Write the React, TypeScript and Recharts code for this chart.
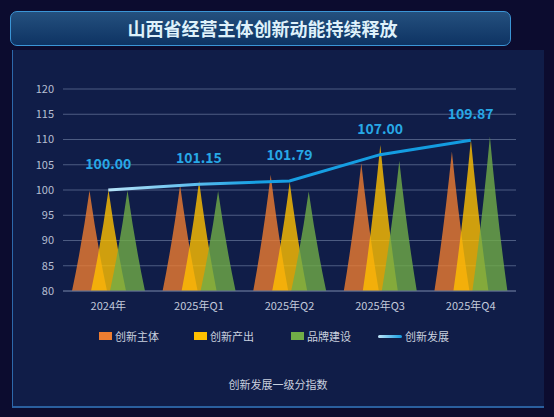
import React from "react"
import { Bar, CartesianGrid, ComposedChart, LabelList, Line, XAxis, YAxis } from "recharts"

const categories = ["2024年", "2025年Q1", "2025年Q2", "2025年Q3", "2025年Q4"]
const subjectValues = [99.9, 101.0, 103.0, 105.3, 107.6]
const outputValues = [100.0, 101.8, 101.6, 108.9, 110.0]
const brandValues = [99.9, 99.8, 99.7, 105.8, 110.6]
const developValues = [100.0, 101.15, 101.79, 107.0, 109.87]
const yTicks = [80, 85, 90, 95, 100, 105, 110, 115, 120]

const data = categories.map((name, i) => ({
  name,
  创新主体: subjectValues[i],
  创新产出: outputValues[i],
  品牌建设: brandValues[i],
  创新发展: developValues[i],
}))

const FONT = '"Noto Sans CJK SC", "Noto Sans", sans-serif'

// spike shaped bar, wider than the slot so neighbours overlap
const Spike = (props: any) => {
  const { x, y, width, height, fill } = props
  if (height == null || height <= 0) return null
  const cx = x + width / 2
  const half = 17.5
  const b = y + height
  const l = cx - half
  const r = cx + half
  const d = `M${l},${b} Q${l + half * 0.56},${b - height * 0.46} ${cx},${y} Q${r - half * 0.56},${b - height * 0.46} ${r},${b} Z`
  return <path d={d} fill={fill} fillOpacity={0.8} />
}

const legendItems = [
  { name: "创新主体", color: "#ed7d31", left: 99 },
  { name: "创新产出", color: "#ffc000", left: 194 },
  { name: "品牌建设", color: "#70ad47", left: 291 },
]

export default function App() {
  return (
    <div
      style={{
        position: "absolute",
        left: 0,
        top: 0,
        width: 554,
        height: 417,
        background: "#0c0c2f",
        overflow: "hidden",
        fontFamily: FONT,
      }}
    >
      <div
        style={{
          position: "absolute",
          left: 12,
          top: 50,
          width: 531,
          height: 356,
          background: "#101d48",
          borderLeft: "1px solid #2d68aa",
          borderBottom: "2px solid #2a5f9e",
        }}
      />
      <div
        style={{
          position: "absolute",
          left: 10,
          top: 11,
          width: 499,
          height: 33,
          border: "1.5px solid #3b95d6",
          borderRadius: 7,
          background: "linear-gradient(#24507e, #0e3363)",
          color: "#dff1fb",
          fontSize: 18,
          fontWeight: "bold",
          textAlign: "center",
          lineHeight: "33px",
        }}
      >
        <span style={{ marginLeft: 4 }}>山西省经营主体创新动能持续释放</span>
      </div>

      <div style={{ position: "absolute", left: 0, top: 0 }}>
        <ComposedChart
          width={554}
          height={417}
          data={data}
          margin={{ top: 89, right: 38, bottom: 96, left: 0 }}
          barSize={19}
          barGap={0}
        >
          <defs>
            <linearGradient id="lineGrad" x1="0" y1="0" x2="1" y2="0">
              <stop offset="0%" stopColor="#b8e4f8" />
              <stop offset="22%" stopColor="#64c0ef" />
              <stop offset="40%" stopColor="#18a0e4" />
              <stop offset="100%" stopColor="#129be0" />
            </linearGradient>
          </defs>
          <CartesianGrid vertical={false} stroke="#4d5c82" strokeWidth={1} />
          <XAxis
            dataKey="name"
            tickLine={false}
            axisLine={{ stroke: "#5d6b8f" }}
            tick={{ fill: "#c3cadb", fontSize: 11, fontFamily: FONT }}
            tickMargin={5}
            height={30}
          />
          <YAxis
            domain={[80, 120]}
            ticks={yTicks}
            width={63}
            tickLine={false}
            axisLine={false}
            tick={{ fill: "#b6bfd2", fontSize: 11, fontFamily: FONT }}
            tickMargin={3}
          />
          <Bar dataKey="创新主体" fill="#ed7d31" shape={<Spike />} isAnimationActive={false} />
          <Bar dataKey="创新产出" fill="#ffc000" shape={<Spike />} isAnimationActive={false} />
          <Bar dataKey="品牌建设" fill="#70ad47" shape={<Spike />} isAnimationActive={false} />
          <Line
            dataKey="创新发展"
            type="linear"
            stroke="url(#lineGrad)"
            strokeWidth={3}
            dot={false}
            activeDot={false}
            isAnimationActive={false}
          >
            <LabelList
              dataKey="创新发展"
              position="top"
              offset={21}
              formatter={(v: any) => Number(v).toFixed(2)}
              fill="#27a8e6"
              fontSize={14}
              fontWeight="bold"
              fontFamily={FONT}
            />
          </Line>
        </ComposedChart>
      </div>

      {legendItems.map((it) => (
        <div
          key={it.name}
          style={{ position: "absolute", left: it.left, top: 328, display: "flex", alignItems: "center", height: 16 }}
        >
          <span style={{ width: 13, height: 8, background: it.color, display: "inline-block" }} />
          <span style={{ marginLeft: 3, fontSize: 11, color: "#c9d0df" }}>{it.name}</span>
        </div>
      ))}
      <div style={{ position: "absolute", left: 378, top: 328, display: "flex", alignItems: "center", height: 16 }}>
        <span
          style={{
            width: 24,
            height: 3,
            borderRadius: 2,
            background: "linear-gradient(90deg, #bfe6f9, #139ce2)",
            display: "inline-block",
          }}
        />
        <span style={{ marginLeft: 3, fontSize: 11, color: "#c9d0df" }}>创新发展</span>
      </div>
      <div
        style={{
          position: "absolute",
          left: 0,
          width: 556,
          top: 376,
          textAlign: "center",
          fontSize: 11,
          color: "#c9d0df",
        }}
      >
        创新发展一级分指数
      </div>
    </div>
  )
}
